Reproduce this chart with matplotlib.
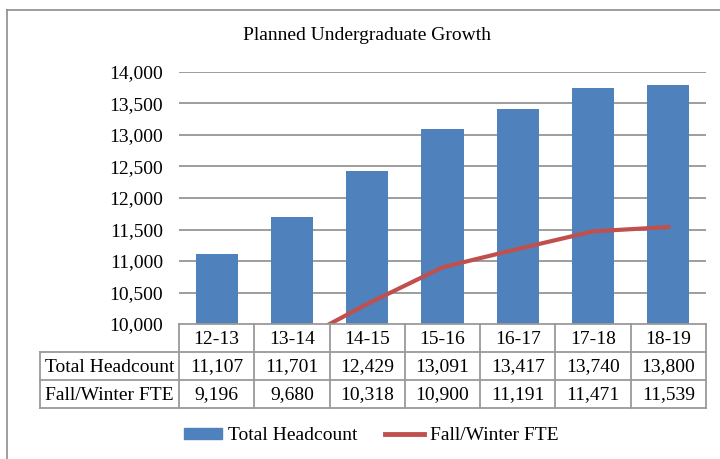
import numpy as np
import matplotlib
matplotlib.use("Agg")
import matplotlib.pyplot as plt
import matplotlib.transforms as mtransforms
from matplotlib.patches import Patch
from matplotlib.lines import Line2D

plt.rcParams['font.family'] = ['Liberation Serif', 'DejaVu Serif']

# data
years = ['12-13', '13-14', '14-15', '15-16', '16-17', '17-18', '18-19']
headcount = [11107, 11701, 12429, 13091, 13417, 13740, 13800]
fte = [9196, 9680, 10318, 10900, 11191, 11471, 11539]
row_labels = ['Total Headcount', 'Fall/Winter FTE']
yticks = [10000, 10500, 11000, 11500, 12000, 12500, 13000, 13500, 14000]

W, H = 720, 459
bar_col = '#4F81BD'
line_col = '#C0504D'
grid_col = '#8C8C8C'
tab_col = '#9A9A9A'
fs = 14


def fy(y):
    # pixel row -> figure fraction
    return 1 - y / H


def fx(x):
    return x / W


fig = plt.figure(figsize=(W / 100, H / 100), dpi=100)

# outer chart border (left and top visible)
fig.add_artist(Line2D([fx(7), fx(7)], [fy(10), 0], color=grid_col, lw=1.2))
fig.add_artist(Line2D([fx(7), 1], [fy(10), fy(10)], color=grid_col, lw=1.2))

fig.text(fx(367), fy(36), 'Planned Undergraduate Growth', ha='center',
         va='center', fontsize=14)

ax_l, ax_r, ax_t, ax_b = 179, 706, 72, 324
ax = fig.add_axes([fx(ax_l), fy(ax_b), fx(ax_r - ax_l), (ax_b - ax_t) / H])
x = np.arange(len(years))
ax.bar(x, headcount, width=0.56, color=bar_col, zorder=3)
ax.plot(x, fte, color=line_col, lw=3, zorder=4)
ax.set_xlim(-0.5, len(years) - 0.5)
ax.set_ylim(10000, 14000)
ax.set_yticks(yticks)
ax.set_yticklabels([f'{v:,}' for v in yticks], fontsize=fs)
ax.tick_params(axis='y', length=0, pad=11.5)
ax.set_xticks([])
for s in ax.spines.values():
    s.set_visible(False)
for v in yticks[1:]:
    ax.axhline(v, color=grid_col, lw=1.2, zorder=1)

# data table under the plot
trans = mtransforms.blended_transform_factory(ax.transData, fig.transFigure)
row_y = [324, 352, 380, 408]
lab_left = 40
lw_tab = 1.3

# horizontal lines
fig.add_artist(Line2D([fx(ax_l), fx(ax_r)], [fy(row_y[0])] * 2, color=tab_col, lw=lw_tab))
for yy in row_y[1:]:
    fig.add_artist(Line2D([fx(lab_left), fx(ax_r)], [fy(yy)] * 2, color=tab_col, lw=lw_tab))
# vertical lines
for i in range(len(years) + 1):
    fig.add_artist(Line2D([i - 0.5, i - 0.5], [fy(row_y[0]), fy(row_y[3])],
                          transform=trans, color=tab_col, lw=lw_tab))
fig.add_artist(Line2D([fx(lab_left)] * 2, [fy(row_y[1]), fy(row_y[3])], color=tab_col, lw=lw_tab))

def mid(a, b):
    return fy((a + b) / 2 + 1)

for i, yr in enumerate(years):
    fig.text(i, mid(row_y[0], row_y[1]), yr, transform=trans, ha='center', va='center', fontsize=fs)
    fig.text(i, mid(row_y[1], row_y[2]), f'{headcount[i]:,}', transform=trans, ha='center', va='center', fontsize=fs)
    fig.text(i, mid(row_y[2], row_y[3]), f'{fte[i]:,}', transform=trans, ha='center', va='center', fontsize=fs)
for j, lab in enumerate(row_labels):
    fig.text(fx((lab_left + ax_l) / 2), mid(row_y[j + 1], row_y[j + 2]), lab,
             ha='center', va='center', fontsize=fs)

handles = [Patch(color=bar_col, label='Total Headcount'),
           Line2D([], [], color=line_col, lw=3.5, label='Fall/Winter FTE')]
fig.legend(handles=handles, loc='center', bbox_to_anchor=(fx(371), fy(436)),
           ncol=2, frameon=False, fontsize=fs, handlelength=2.0,
           handleheight=0.55, columnspacing=1.4, handletextpad=0.3)

fig.savefig('out.png', dpi=100)
